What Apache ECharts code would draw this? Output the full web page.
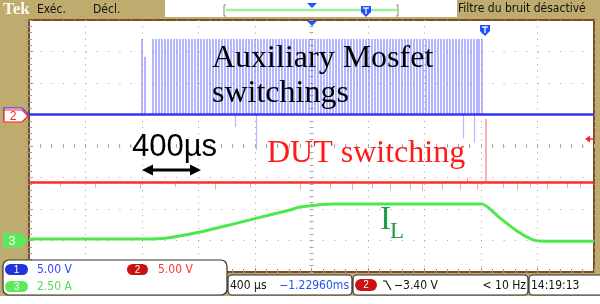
<!DOCTYPE html>
<html>
<head>
<meta charset="utf-8">
<script src="https://cdn.jsdelivr.net/npm/echarts@6/dist/echarts.min.js"></script>
<style>
html, body { margin: 0; padding: 0; background: #bfab6d; }
#scope { width: 600px; height: 304px; }
</style>
</head>
<body>
<div id="scope"></div>
<script>
// time in µs (400 µs/div, 10 div), vertical in screen divisions (8 div)
var timeMin = 0, timeMax = 4000, timeDiv = 400;
var divMin = 0, divMax = 8;

// ch1 : auxiliary mosfet gate
var blueLevel = 5.0;
var auxPulseTop = 7.4;
var auxPulseTimes = [800, 876, 897, 919, 940, 961, 982, 1004, 1025, 1046, 1067, 1089, 1110, 1131,
  1152, 1174, 1195, 1216, 1237, 1259, 1280, 1301, 1322, 1344, 1365, 1386, 1407, 1429, 1450, 1471,
  1492, 1514, 1535, 1556, 1577, 1599, 1620, 1641, 1662, 1684, 1705, 1726, 1747, 1769, 1790, 1811,
  1832, 1854, 1875, 1896, 1917, 1939, 1960, 1981, 2002, 2024, 2045, 2066, 2087, 2109, 2130, 2151,
  2172, 2194, 2215, 2236, 2257, 2279, 2300, 2321, 2342, 2364, 2385, 2406, 2427, 2449, 2470, 2491,
  2512, 2534, 2555, 2576, 2597, 2619, 2640, 2661, 2682, 2704, 2725, 2746, 2767, 2789, 2810, 2831,
  2852, 2874, 2895, 2916, 2937, 2959, 2980, 3001, 3022, 3044, 3065, 3086, 3107, 3129, 3150, 3171,
  3186, 3207];
var auxShortPulses = [[821, 6.83]];
var auxDownSpikes = [[1458, 4.6], [1607, 3.87], [3073, 4.25], [3150, 4.1]];

// ch2 : DUT
var redLevel = 2.84;
var dutSpike = [3234, 4.86];
var redSpikes = [[219, 2.7], [467, 2.68], [786, 2.65], [1034, 2.7], [1317, 2.62], [1565, 2.66],
  [1919, 2.6], [2131, 2.64], [2287, 2.6], [2428, 2.66], [2556, 2.6], [2697, 2.63], [2782, 2.58],
  [2924, 2.62], [3051, 2.6], [3101, 3.0], [3172, 2.62], [3356, 2.66], [3455, 2.6], [3547, 2.68],
  [3667, 2.64], [3809, 2.66], [3901, 2.68]];

// ch3 : inductor current IL
var ilTimes = [0, 807, 977, 1211, 1444, 1614, 1848, 1918, 2152, 2273, 2627, 3207, 3335, 3455, 3568, 3653, 4000];
var ilLevels = [1.05, 1.05, 1.08, 1.27, 1.52, 1.71, 1.97, 2.06, 2.16, 2.16, 2.16, 2.16, 1.71, 1.30, 1.02, 0.98, 0.98];

var chart = echarts.init(document.getElementById('scope'));

var dotGray = '#a2a2a2';
function xAx(pos, extra) {
  var a = {
    type: 'value', min: timeMin, max: timeMax, interval: timeDiv, position: pos,
    axisLine: { show: false }, axisLabel: { show: false },
    axisTick: { show: true, inside: true, length: 4, lineStyle: { color: '#999' } },
    minorTick: { show: true, splitNumber: 5, length: 3, lineStyle: { color: '#999' } },
    splitLine: { show: false }
  };
  return Object.assign(a, extra || {});
}
function yAx(pos, extra) {
  var a = {
    type: 'value', min: divMin, max: divMax, interval: 1, position: pos,
    axisLine: { show: false }, axisLabel: { show: false },
    axisTick: { show: true, inside: true, length: 4, lineStyle: { color: '#999' } },
    minorTick: { show: true, splitNumber: 5, length: 3, lineStyle: { color: '#999' } },
    splitLine: { show: false }
  };
  return Object.assign(a, extra || {});
}
var centerTick = { show: true, length: 2, lineStyle: { color: '#aaa' } };
var centerMinor = { show: true, splitNumber: 5, length: 2, lineStyle: { color: '#aaa' } };

var pulseLines = auxPulseTimes.map(function (t) { return { coords: [[t, blueLevel], [t, auxPulseTop]] }; })
  .concat(auxShortPulses.map(function (p) { return { coords: [[p[0], blueLevel], [p[0], p[1]]] }; }));
var downLines = auxDownSpikes.map(function (p) { return { coords: [[p[0], blueLevel], [p[0], p[1]]] }; });
var redLines = redSpikes.map(function (p) { return { coords: [[p[0], redLevel], [p[0], p[1]]] }; });

var serif = 'Liberation Serif';
var sans = 'Liberation Sans';
var narrow = '"Liberation Sans Narrow", "DejaVu Sans Condensed", "Liberation Sans"';

function pent(x, y, w, h, tip) {
  return [[x, y], [x + w, y], [x + w + tip, y + h / 2], [x + w, y + h], [x, y + h]];
}
function shield(cx, cy) {
  return [
    { type: 'polygon', z: 120, shape: { points: [[cx - 5, cy - 5], [cx + 5, cy - 5], [cx + 5, cy + 1], [cx, cy + 6], [cx - 5, cy + 1]] }, style: { fill: '#1f4fff' } },
    { type: 'polyline', z: 121, shape: { points: [[cx - 3, cy - 3], [cx + 3, cy - 3]] }, style: { stroke: '#fff', lineWidth: 1.3 } },
    { type: 'polyline', z: 121, shape: { points: [[cx, cy - 3], [cx, cy + 3]] }, style: { stroke: '#fff', lineWidth: 1.3 } }
  ];
}
function pill(x, y, w, h, color, label) {
  return [
    { type: 'rect', z: 131, shape: { x: x, y: y, width: w, height: h, r: h / 2 }, style: { fill: color } },
    { type: 'text', z: 132, style: { text: label, x: x + w / 2, y: y + h / 2 + 0.5, align: 'center', verticalAlign: 'middle', font: '10px ' + sans, fill: '#fff' } }
  ];
}
function txt(s, x, y, font, fill, align) {
  return { type: 'text', z: 132, style: { text: s, x: x, y: y, font: font, fill: fill, align: align || 'left', verticalAlign: 'middle' } };
}

var graphics = [
  // header
  { type: 'rect', z: 110, shape: { x: 165, y: 0, width: 292, height: 17 }, style: { fill: '#fff' } },
  { type: 'rect', z: 110, shape: { x: 0, y: 296, width: 600, height: 8 }, style: { fill: '#fff' } },
  txt('Tek', 3, 10, 'bold 17px ' + serif, '#fbf8ee'),
  txt('Exéc.', 37, 10, '12px ' + narrow, '#111'),
  txt('Décl.', 93, 10, '12px ' + narrow, '#111'),
  txt('Filtre du bruit désactivé', 458, 9, '12px ' + narrow, '#111'),
  { type: 'polyline', z: 120, shape: { points: [[226, 10], [397, 10]] }, style: { stroke: '#9cf09c', lineWidth: 2.5 } },
  { type: 'polyline', z: 120, shape: { points: [[226, 5], [224, 5], [224, 16], [226, 16]] }, style: { stroke: '#888', lineWidth: 1 } },
  { type: 'polyline', z: 120, shape: { points: [[396, 5], [398, 5], [398, 16], [396, 16]] }, style: { stroke: '#888', lineWidth: 1 } },
  { type: 'polygon', z: 120, shape: { points: [[307, 3], [317, 3], [312, 8]] }, style: { fill: '#1f4fff' } },
  { type: 'polygon', z: 120, shape: { points: [[307, 21], [317, 21], [312, 26]] }, style: { fill: '#1f4fff' } },
  // channel markers
  { type: 'polygon', z: 120, shape: { points: pent(4, 108, 18, 12, 6) }, style: { fill: '#fff', stroke: '#3030ff', lineWidth: 1.2 } },
  { type: 'polygon', z: 121, shape: { points: pent(4, 110, 18, 12, 6) }, style: { fill: '#fff', stroke: '#ff2020', lineWidth: 1.2 } },
  txt('2', 13, 116.5, '12px ' + sans, '#ff2020', 'center'),
  { type: 'polygon', z: 120, shape: { points: pent(3, 233, 18, 15, 7) }, style: { fill: '#5ee85e' } },
  txt('3', 12, 241, '13px ' + sans, '#fff', 'center'),
  { type: 'polygon', z: 120, shape: { points: [[585, 139], [590, 135.5], [590, 142.5]] }, style: { fill: '#ff2020' } },
  { type: 'polyline', z: 120, shape: { points: [[589, 139], [594, 139]] }, style: { stroke: '#ff2020', lineWidth: 1.5 } },
  // annotations
  { type: 'text', z: 125, style: { text: 'Auxiliary Mosfet', x: 212, y: 43, font: '32px ' + serif, fill: '#000', verticalAlign: 'top' } },
  { type: 'text', z: 125, style: { text: 'switchings', x: 212, y: 78, font: '32px ' + serif, fill: '#000', verticalAlign: 'top' } },
  { type: 'text', z: 125, style: { text: '400µs', x: 132, y: 132, font: '31px ' + sans, fill: '#000', verticalAlign: 'top' } },
  { type: 'text', z: 125, style: { text: 'DUT switching', x: 267, y: 138, font: '32px ' + serif, fill: '#ff1a1a', verticalAlign: 'top' } },
  { type: 'text', z: 125, style: { text: 'I', x: 380, y: 204, font: '33px ' + serif, fill: '#1e9e46', verticalAlign: 'top' } },
  { type: 'text', z: 125, style: { text: 'L', x: 390, y: 220, font: '23px ' + serif, fill: '#1e9e46', verticalAlign: 'top' } },
  { type: 'polyline', z: 125, shape: { points: [[150, 170], [193, 170]] }, style: { stroke: '#000', lineWidth: 3 } },
  { type: 'polygon', z: 125, shape: { points: [[142, 170], [153, 164.5], [153, 175.5]] }, style: { fill: '#000' } },
  { type: 'polygon', z: 125, shape: { points: [[201, 170], [190, 164.5], [190, 175.5]] }, style: { fill: '#000' } },
  // bottom readouts
  { type: 'rect', z: 130, shape: { x: 3, y: 260, width: 224, height: 35, r: 6 }, style: { fill: '#fff', stroke: '#333', lineWidth: 1.2 } },
  txt('5.00 V', 37, 270, '12px ' + narrow, '#3344ff'),
  txt('5.00 V', 158, 270, '12px ' + narrow, '#ff3333'),
  txt('2.50 A', 37, 287, '12px ' + narrow, '#55dd55'),
  { type: 'rect', z: 130, shape: { x: 228, y: 275, width: 124, height: 20, r: 4 }, style: { fill: '#fff', stroke: '#333', lineWidth: 1.2 } },
  txt('400 µs', 230, 285.5, '12px ' + narrow, '#111'),
  txt('−1.22960ms', 349, 285.5, '12px ' + narrow, '#2255ee', 'right'),
  { type: 'rect', z: 130, shape: { x: 353, y: 275, width: 175, height: 20, r: 4 }, style: { fill: '#fff', stroke: '#333', lineWidth: 1.2 } },
  { type: 'polyline', z: 132, shape: { points: [[383, 281], [386, 281], [391, 290]] }, style: { stroke: '#111', lineWidth: 1.2 } },
  txt('−3.40 V', 394, 285.5, '12px ' + narrow, '#111'),
  txt('< 10 Hz', 526, 285.5, '12px ' + narrow, '#111', 'right'),
  { type: 'rect', z: 130, shape: { x: 529, y: 275, width: 76, height: 20, r: 4 }, style: { fill: '#fff', stroke: '#333', lineWidth: 1.2 } },
  txt('14:19:13', 531, 285.5, '12px ' + narrow, '#111')
].concat(shield(366, 11), shield(485, 30),
  pill(5, 264, 23, 11, '#2233dd', '1'), pill(127, 264, 21, 11, '#cc1111', '2'),
  pill(5, 281, 23, 11, '#5ee85e', '3'), pill(355, 279, 22, 12, '#cc1111', '2'));

var option = {
  backgroundColor: '#bfab6d',
  animation: false,
  grid: { left: 29, right: 6, top: 20, bottom: 32, show: true, backgroundColor: '#fff', borderColor: '#7c4c24', borderWidth: 2 },
  xAxis: [
    xAx('bottom', { splitLine: { show: true, lineStyle: { color: dotGray, width: 1, type: [1, 5.3] } } }),
    xAx('top'),
    xAx('bottom', { offset: -126, axisTick: Object.assign({ inside: true }, centerTick), minorTick: centerMinor }),
    xAx('bottom', { offset: -126, axisTick: Object.assign({ inside: false }, centerTick), minorTick: centerMinor })
  ],
  yAxis: [
    yAx('left', { splitLine: { show: true, lineStyle: { color: dotGray, width: 1, type: [1, 10.3] } } }),
    yAx('right'),
    yAx('left', { offset: -282.5, axisTick: Object.assign({ inside: true }, centerTick), minorTick: centerMinor }),
    yAx('left', { offset: -282.5, axisTick: Object.assign({ inside: false }, centerTick), minorTick: centerMinor })
  ],
  series: [
    { type: 'lines', coordinateSystem: 'cartesian2d', z: 3, silent: true, data: pulseLines,
      lineStyle: { color: '#5e64ff', width: 1.5, opacity: 0.62, curveness: 0 } },
    { type: 'lines', coordinateSystem: 'cartesian2d', z: 3, silent: true, data: downLines,
      lineStyle: { color: '#7b80ff', width: 1.2, opacity: 0.55, curveness: 0 } },
    { type: 'line', z: 4, symbol: 'none', data: [[timeMin, blueLevel], [timeMax, blueLevel]],
      lineStyle: { color: '#3535f2', width: 2.4 } },
    { type: 'lines', coordinateSystem: 'cartesian2d', z: 3, silent: true, data: redLines,
      lineStyle: { color: '#ff6666', width: 1, opacity: 0.6, curveness: 0 } },
    { type: 'lines', coordinateSystem: 'cartesian2d', z: 3, silent: true,
      data: [{ coords: [[dutSpike[0], redLevel], [dutSpike[0], dutSpike[1]]] }],
      lineStyle: { color: '#ff8080', width: 1.6, opacity: 0.8, curveness: 0 } },
    { type: 'line', z: 4, symbol: 'none', data: [[timeMin, redLevel], [timeMax, redLevel]],
      lineStyle: { color: '#ff2a2a', width: 2.4 } },
    { type: 'line', z: 4, symbol: 'none', smooth: 0.2,
      data: ilTimes.map(function (t, i) { return [t, ilLevels[i]]; }),
      lineStyle: { color: '#4de84d', width: 3 } }
  ],
  graphic: graphics
};

chart.setOption(option);
</script>
</body>
</html>
